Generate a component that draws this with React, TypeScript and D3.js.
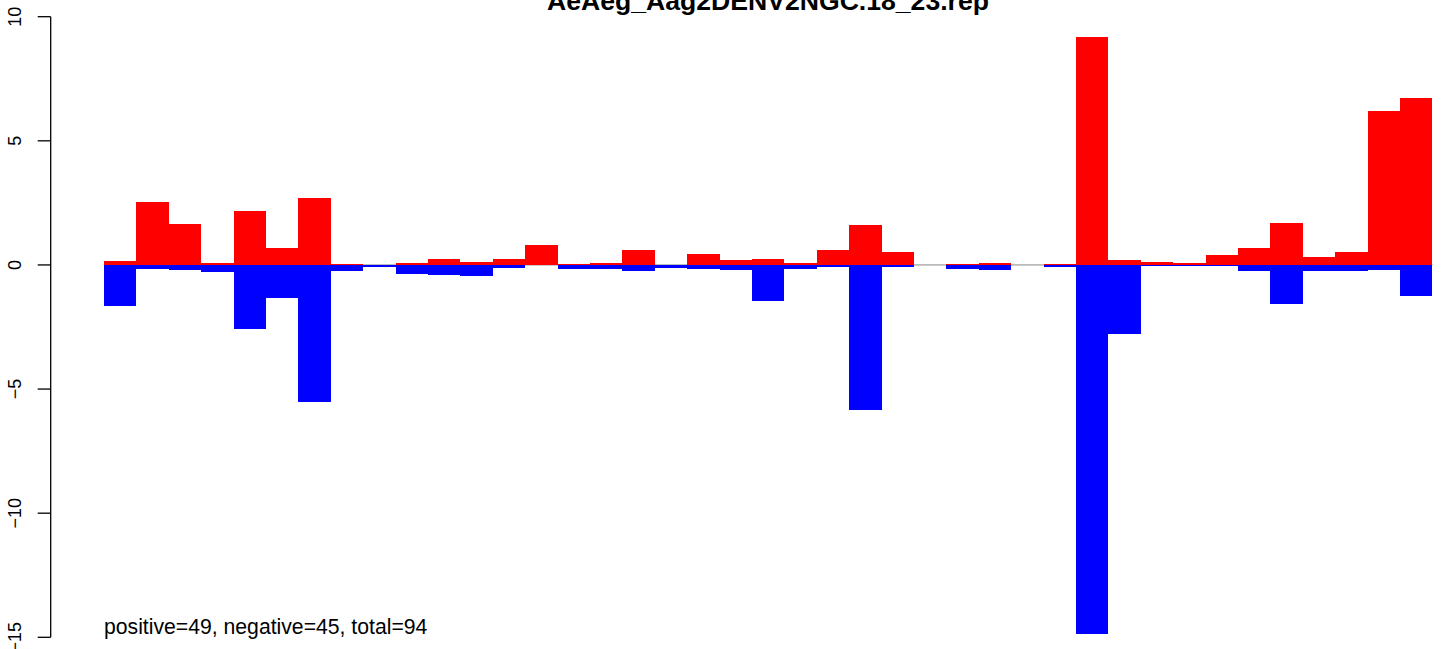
import React from "react";
import * as d3 from "d3";

const title = "AeAeg_Aag2DENV2NGC.18_23.rep";
const footnote = "positive=49, negative=45, total=94";
const yTicks = [10, 5, 0, -5, -10, -15];
const positiveValues = [0.17, 2.53, 1.65, 0.09, 2.17, 0.68, 2.7, 0.05, 0, 0.09, 0.25, 0.13, 0.25, 0.8, 0.05, 0.09, 0.6, 0, 0.46, 0.21, 0.25, 0.09, 0.62, 1.61, 0.54, 0, 0.05, 0.09, 0, 0.05, 9.18, 0.21, 0.13, 0.09, 0.42, 0.7, 1.69, 0.33, 0.54, 6.2, 6.72];
const negativeValues = [-1.64, -0.15, -0.19, -0.27, -2.57, -1.32, -5.51, -0.23, -0.07, -0.35, -0.39, -0.43, -0.11, 0, -0.15, -0.15, -0.23, -0.11, -0.15, -0.19, -1.45, -0.15, -0.07, -5.83, -0.07, 0, -0.15, -0.19, 0, -0.07, -14.86, -2.78, -0.03, -0.03, -0.03, -0.23, -1.58, -0.23, -0.23, -0.19, -1.24];

const W = 1444;
const H = 649;
const FONT = "'Liberation Sans', Arial, Helvetica, sans-serif";

export default function App() {
  const idx = positiveValues.map((_, i) => i);
  const x = d3.scaleBand<number>().domain(idx).range([104, 1432.4]).padding(0);
  const y = d3.scaleLinear().domain([-15, 10]).range([637.3, 16.7]);
  const y0 = y(0);
  const axisX = 50.7;

  return (
    <svg width={W} height={H} style={{ position: "absolute", left: 0, top: 0, background: "#fff" }}>
      <line x1={x(0)!} x2={x(idx.length - 1)! + x.bandwidth()} y1={y0} y2={y0} stroke="#888" strokeWidth={1} />
      {positiveValues.map((v, i) => (
        <rect key={"p" + i} x={x(i)!} width={x.bandwidth()} y={y(Math.max(v, 0))} height={Math.abs(y(v) - y0)} fill="#ff0000" shapeRendering="crispEdges" />
      ))}
      {negativeValues.map((v, i) => (
        <rect key={"n" + i} x={x(i)!} width={x.bandwidth()} y={y0} height={Math.abs(y(v) - y0)} fill="#0000ff" shapeRendering="crispEdges" />
      ))}
      <line x1={axisX} x2={axisX} y1={y(10)} y2={y(-15)} stroke="#000" strokeWidth={1.3} />
      {yTicks.map((t) => (
        <g key={t}>
          <line x1={axisX - 13} x2={axisX} y1={y(t)} y2={y(t)} stroke="#000" strokeWidth={1.3} />
          <text transform={`translate(21,${y(t)}) rotate(-90)`} textAnchor="middle" fontFamily={FONT} fontSize={18} fill="#000">
            {t < 0 ? "\u2212" + Math.abs(t) : String(t)}
          </text>
        </g>
      ))}
      <text x={768} y={10} textAnchor="middle" fontFamily={FONT} fontSize={26.6} fontWeight="bold" fill="#000">
        {title}
      </text>
      <text x={104} y={633.5} fontFamily={FONT} fontSize={21.2} fill="#000">
        {footnote}
      </text>
    </svg>
  );
}
